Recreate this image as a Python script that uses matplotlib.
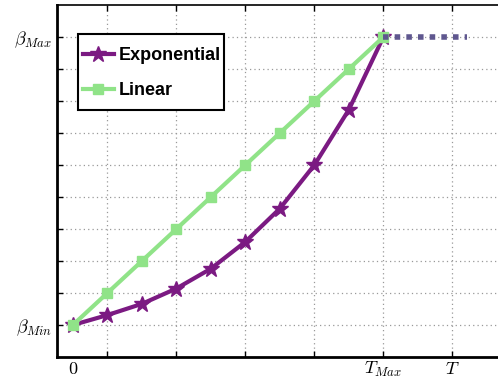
import numpy as np
import matplotlib
matplotlib.use('Agg')
import matplotlib.pyplot as plt
from matplotlib.patches import Rectangle

plt.rcParams['mathtext.fontset'] = 'cm'

steps = [0, 1, 2, 3, 4, 5, 6, 7, 8, 9]
exponential = [0, 0.31, 0.66, 1.14, 1.76, 2.6, 3.64, 5.0, 6.73, 9.0]
linear = [0, 1, 2, 3, 4, 5, 6, 7, 8, 9]
hold_x = [9, 11.42]
hold_y = [9, 9]

xticks = [1, 3, 5, 7, 9, 11]
xlabels = ['', '', '', '', r'$T_{Max}$', r'$T$']
yticks = [0, 1, 2, 3, 4, 5, 6, 7, 8, 9]
ylabels = [r'$\beta_{Min}$', '', '', '', '', '', '', '', '', r'$\beta_{Max}$']

fig = plt.figure(figsize=(4.98, 3.81), dpi=100)
ax = fig.add_axes([57/498, 24/381, 450.6/498, 352/381])

ax.plot(steps, exponential, color='#7b1a82', lw=3, marker='*', ms=12,
        label='Exponential')
ax.plot(steps, linear, color='#90e388', lw=3, marker='s', ms=6.5,
        label='Linear')
ax.plot(hold_x, hold_y, color='#5f578f', lw=4, linestyle=(0, (1, 1.1)))

ax.set_xlim(-0.46, 12.6)
ax.set_ylim(-1, 10)
ax.set_xticks(xticks)
ax.set_xticklabels(xlabels, fontsize=13)
ax.set_xticks([0], minor=True)
ax.set_xticklabels([r'$0$'], minor=True, fontsize=13)
ax.set_yticks(yticks)
ax.set_yticklabels(ylabels, fontsize=13)
ax.tick_params(which='major', direction='in', top=True, length=4, width=1)
ax.tick_params(which='minor', length=0)
ax.tick_params(axis='x', which='both', pad=2)
ax.grid(which='major', linestyle=(0, (1, 2.5)), color='#999999', lw=0.9)

for s in ['left', 'bottom']:
    ax.spines[s].set_linewidth(2)
ax.spines['top'].set_linewidth(1.2)
ax.spines['right'].set_visible(False)

# legend box drawn separately so it can be taller than the entries need
box = Rectangle((0.0466, 0.7017), 0.324, 0.216, transform=ax.transAxes,
                facecolor='white', edgecolor='black', lw=1.5, zorder=4.9)
ax.add_patch(box)
leg = ax.legend(loc='upper left', bbox_to_anchor=(0.0466, 0.8935),
                borderaxespad=0, frameon=False,
                prop={'family': 'Liberation Sans', 'weight': 'bold', 'size': 13},
                handlelength=1.72, handletextpad=0.28,
                borderpad=0.25, labelspacing=1.0)

fig.savefig('out.png', dpi=100)
